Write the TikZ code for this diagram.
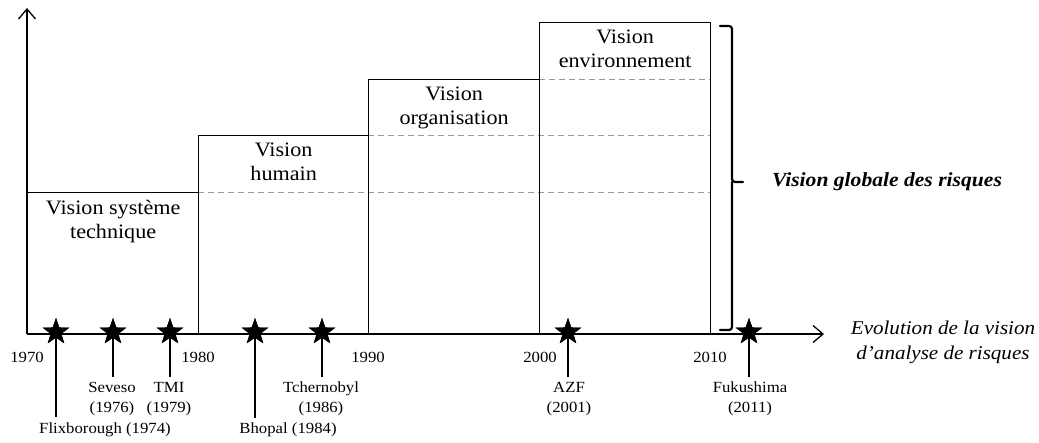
\documentclass[tikz,border=0pt]{standalone}
\usepackage{fontspec}
\setmainfont{Liberation Serif}[FakeStretch=1.08]
\usetikzlibrary{arrows.meta,shapes.geometric}
\begin{document}
\begin{tikzpicture}[x=1pt,y=-1pt,
  vbox/.style={draw,line width=1.3pt,inner sep=0pt,anchor=south west},
  vtext/.style={anchor=north,align=center,inner sep=0pt,font=\fontsize{20.5}{24.5}\selectfont},
  dashline/.style={draw=black!40,line width=1pt,dash pattern=on 6pt off 4pt},
  axis/.style={line width=1.5pt,-{Straight Barb[length=10pt,width=17pt,line width=1.3pt]}},
  evstar/.style={star,star points=5,star point ratio=2.5,fill=black,draw=none,minimum size=28pt,inner sep=0pt},
  evline/.style={line width=1.3pt},
  evtext/.style={align=center,inner sep=0pt,font=\fontsize{15.5}{20}\selectfont},
  year/.style={inner sep=0pt,font=\fontsize{15.5}{20}\selectfont},
  brace/.style={line width=2.2pt,rounded corners=3pt,line cap=round}]
\useasboundingbox (0,0) rectangle (1039,443);
% dashed guide lines
\draw[dashline] (198,193) -- (710,193);
\draw[dashline] (368,136) -- (710,136);
\draw[dashline] (539,80) -- (710,80);
% boxes
\node[vbox,minimum width=171pt,minimum height=141pt] (b1) at (27,334) {};
\node[vbox,minimum width=170pt,minimum height=198pt] (b2) at (198,334) {};
\node[vbox,minimum width=171pt,minimum height=254pt] (b3) at (368,334) {};
\node[vbox,minimum width=171pt,minimum height=311pt] (b4) at (539,334) {};
\node[vtext] (t1) at ([yshift=-8pt]b1.north) {Vision système\\technique};
\node[vtext] (t2) at ([yshift=-8pt]b2.north) {Vision\\humain};
\node[vtext] (t3) at ([yshift=-8pt]b3.north) {Vision\\organisation};
\node[vtext] (t4) at ([yshift=-8pt]b4.north) {Vision\\environnement};
% event lines
\coordinate (e1) at (56,417);
\coordinate (e2) at (113,377);
\coordinate (e3) at (170,377);
\coordinate (e4) at (255,418);
\coordinate (e5) at (322,377);
\coordinate (e6) at (568,377);
\coordinate (e7) at (749,377);
\node[evstar] (s1) at (56,332) {};
\node[evstar] (s2) at (113,332) {};
\node[evstar] (s3) at (170,332) {};
\node[evstar] (s4) at (255,332) {};
\node[evstar] (s5) at (322,332) {};
\node[evstar] (s6) at (568,332) {};
\node[evstar] (s7) at (749,332) {};
\foreach \i in {1,...,7} {\draw[evline] (s\i.center) -- (e\i);}
% axes
\coordinate (O) at (27,334);
\coordinate (ytip) at (27,8);
\coordinate (xtip) at (824,334);
\draw[axis] (O) -- (ytip);
\draw[axis] (O) -- (xtip);
% stars on top
\foreach \x [count=\i] in {56,113,170,255,322,568,749} {\node[evstar] at (\x,332) {};}
% years
\node[year] (y1970) at (27,357) {1970};
\node[year] (y1980) at (198,357) {1980};
\node[year] (y1990) at (368,357) {1990};
\node[year] (y2000) at (540,357) {2000};
\node[year] (y2010) at (710,357) {2010};
% event labels
\node[evtext,anchor=north] (l2) at (112,382) {Seveso\\(1976)};
\node[evtext,anchor=north] (l3) at (169,382) {TMI\\(1979)};
\node[evtext,anchor=north] (l5) at (321,382) {Tchernobyl\\(1986)};
\node[evtext,anchor=north] (l6) at (569,382) {AZF\\(2001)};
\node[evtext,anchor=north] (l7) at (750,382) {Fukushima\\(2011)};
\node[evtext] (l1) at (105,430) {Flixborough (1974)};
\node[evtext] (l4) at (288,430) {Bhopal (1984)};
% brace
\coordinate (br1) at (720,26);
\coordinate (br2) at (732,26);
\coordinate (br3) at (732,330);
\coordinate (br4) at (720,330);
\coordinate (brm) at (732,182);
\coordinate (brt) at (743,182);
\draw[brace] (br1) -- (br2) -- (brm) -- (brt);
\draw[brace] (brm) -- (br3) -- (br4);
\node[font=\fontsize{20}{24}\selectfont\bfseries\itshape,inner sep=0pt] (glob) at (887,182) {Vision globale des risques};
\node[font=\fontsize{19.5}{25}\selectfont\itshape,align=center,inner sep=0pt] (evo) at (943,342) {Evolution de la vision\\d’analyse de risques};
\end{tikzpicture}
\end{document}
